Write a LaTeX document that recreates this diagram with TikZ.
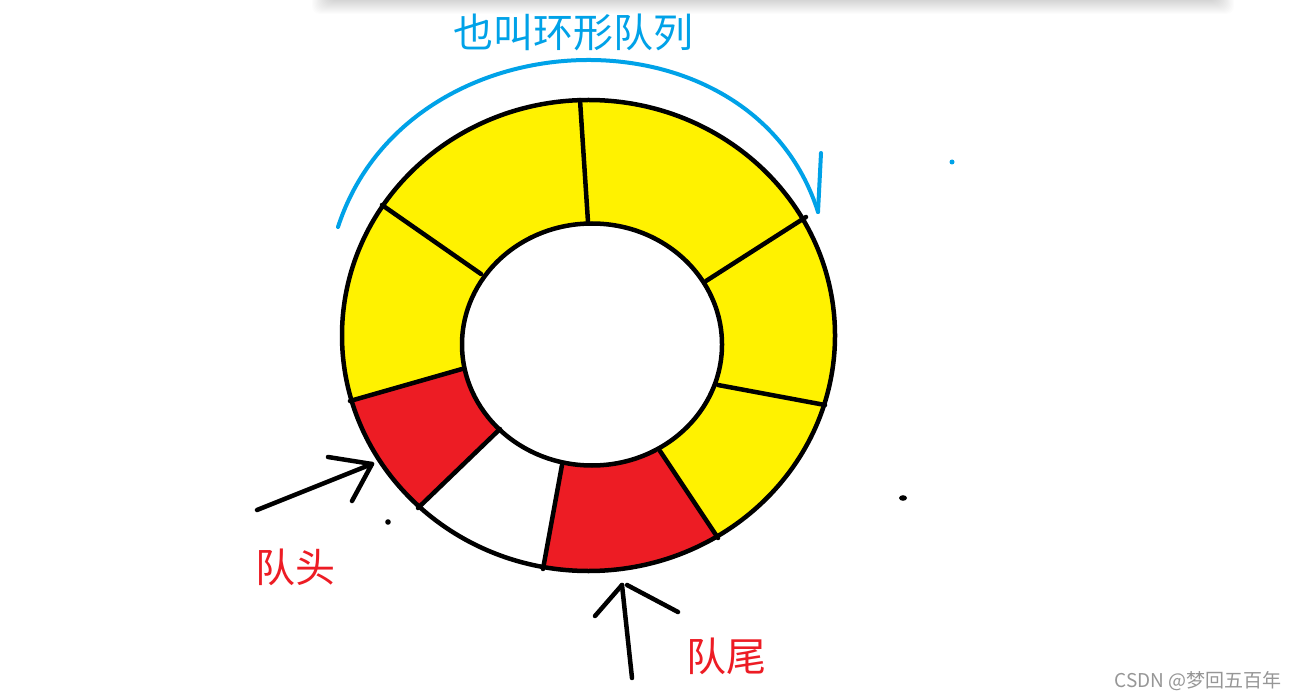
\documentclass[tikz,border=0pt]{standalone}
\usepackage{fontspec}
\newfontfamily\cjk{Noto Sans CJK SC}
\definecolor{pyellow}{RGB}{255,242,0}
\definecolor{pred}{RGB}{237,28,36}
\definecolor{pblue}{RGB}{0,162,232}
\definecolor{wmgray}{RGB}{150,150,150}
\tikzset{
  ringline/.style={line width=4.5pt, line cap=round},
  penline/.style={line width=4.5pt, line cap=round, line join=round},
  bluepen/.style={pblue, line width=4pt, line cap=round},
  bigtext/.style={font=\cjk\fontsize{40}{40}\selectfont, inner sep=0pt},
}
\begin{document}
\begin{tikzpicture}[x=1pt,y=-1pt]
\useasboundingbox (0,0) rectangle (1300,700);
\fill[white] (0,0) rectangle (1300,700);
% top shadow
\foreach \i in {0,...,13}{
  \fill[black, opacity=0.011, rounded corners=8pt] (312+\i*1.2,-20) rectangle (1234-\i*1.2,14-\i);
}
% coordinates of dividers
\coordinate (o1) at (580,100);  \coordinate (i1) at (588,222);
\coordinate (o2) at (382,205);  \coordinate (i2) at (481,274);
\coordinate (o3) at (350,401);  \coordinate (i3) at (462,369);
\coordinate (o4) at (418,508);  \coordinate (i4) at (500,429);
\coordinate (o5) at (543,569);  \coordinate (i5) at (562,465);
\coordinate (o6) at (718,538);  \coordinate (i6) at (660,451);
\coordinate (o7) at (825,405);  \coordinate (i7) at (718,385);
\coordinate (o8) at (806,217);  \coordinate (i8) at (706,281);
% ring fills
\fill[pyellow] (588.5,335.5) ellipse [x radius=246.5pt, y radius=235.5pt];
\begin{scope}
  \clip (588.5,335.5) ellipse [x radius=246.5pt, y radius=235.5pt];
  \fill[pred] (240,434) -- (i3) -- (i4) -- (336,587) -- (230,520) -- cycle;
  \fill[white] (336,587) -- (i4) -- (i5) -- (524,675) -- (400,690) -- cycle;
  \fill[pred] (524,675) -- (i5) -- (i6) -- (776,625) -- (650,700) -- cycle;
\end{scope}
\fill[white] (592,344.5) ellipse [x radius=130pt, y radius=121pt];
% dividers
\foreach \k in {1,...,8}{ \draw[ringline] (o\k) -- (i\k); }
\draw[ringline] (588.5,335.5) ellipse [x radius=246.5pt, y radius=235.5pt];
\draw[ringline] (592,344.5) ellipse [x radius=130pt, y radius=121pt];
% blue arc
\coordinate (arcA) at (338,227);
\coordinate (arcB) at (818,212);
\coordinate (hook) at (821,153);
\draw[bluepen] (arcA) .. controls (408,12) and (752,2) .. (arcB);
\draw[bluepen] (hook) -- (arcB);
\node[bigtext, text=pblue] (title) at (573,32) {也叫环形队列};
\fill[pblue] (952,162) circle (2.5pt);
% head arrow
\coordinate (headtip) at (372,464);
\coordinate (headtail) at (257,510);
\coordinate (headw1) at (328,457);
\coordinate (headw2) at (352,501);
\draw[penline] (headtail) -- (headtip);
\draw[penline] (headw1) -- (headtip) -- (headw2);
\node[bigtext, text=pred] (head) at (295,567) {队头};
% tail arrow
\coordinate (tailtip) at (622,585);
\coordinate (tailtail) at (632,678);
\coordinate (tailw1) at (595,616);
\coordinate (tailw2a) at (627,585);
\coordinate (tailw2b) at (678,612);
\draw[penline] (tailtail) -- (tailtip);
\draw[penline] (tailw1) -- (tailtip);
\draw[penline] (tailw2a) -- (tailw2b);
\node[bigtext, text=pred] (tail) at (726,656) {队尾};
% stray dots
\fill (388,522) circle (2.8pt);
\fill (903,498) ellipse [x radius=4pt, y radius=2.8pt];
% watermark
\node[font=\cjk\fontsize{19}{19}\selectfont, text=wmgray, inner sep=0pt] (wm) at (1198,681) {CSDN @梦回五百年};
\end{tikzpicture}
\end{document}
